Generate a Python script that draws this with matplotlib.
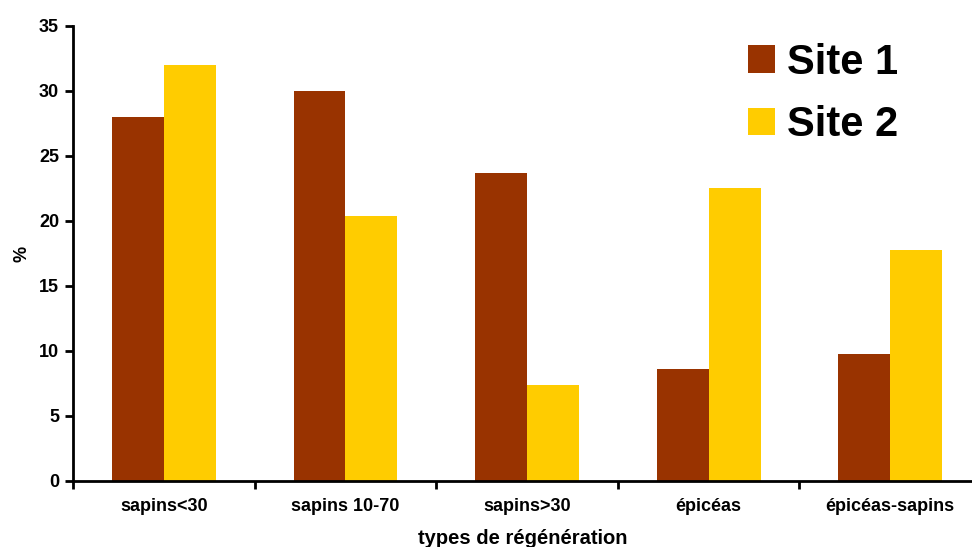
import numpy as np
import matplotlib
matplotlib.use("Agg")
import matplotlib.pyplot as plt

# data
categories = ["sapins<30", "sapins 10-70", "sapins>30", "épicéas", "épicéas-sapins"]
site1 = [28.0, 30.0, 23.7, 8.6, 9.8]
site2 = [32.0, 20.4, 7.4, 22.5, 17.8]
series_names = ["Site 1", "Site 2"]

plt.rcParams['font.family'] = ['Liberation Sans', 'DejaVu Sans']
plt.rcParams['font.weight'] = 'bold'

fig = plt.figure(figsize=(9.72, 5.47), dpi=100)
ax = fig.add_axes([0.0751, 0.1207, 0.9249, 0.8318])

x = np.arange(len(categories)) + 0.5
w = 1 / 3.5
ax.bar(x - w / 2, site1, width=w, color='#993300', label=series_names[0])
ax.bar(x + w / 2, site2, width=w, color='#FFCC00', label=series_names[1])

ax.set_xlim(0, 4.95)
ax.set_ylim(0, 35)
ax.set_yticks(np.arange(0, 36, 5))

# group ticks between categories, labels centered
ax.set_xticks(np.arange(0, len(categories)))
ax.set_xticklabels([])
ax.set_xticks(x, minor=True)
ax.set_xticklabels(categories, minor=True, fontsize=13, fontweight='bold')
ax.tick_params(axis='x', which='minor', length=0, pad=12)
ax.tick_params(axis='x', which='major', direction='out', length=6, width=2)
ax.tick_params(axis='y', direction='out', length=6, width=2, labelsize=13, pad=4)
for lab in ax.get_yticklabels():
    lab.set_fontweight('bold')

for s in ['top', 'right']:
    ax.spines[s].set_visible(False)
for s in ['left', 'bottom']:
    ax.spines[s].set_linewidth(2)

ax.set_ylabel('%', fontsize=13, fontweight='bold', labelpad=6)
ax.set_xlabel('types de régénération', fontsize=14.5, fontweight='bold', labelpad=10)

leg = ax.legend(loc='upper right', bbox_to_anchor=(0.96, 1.045), frameon=False,
                prop={'size': 30, 'weight': 'bold'}, handlelength=0.65,
                handleheight=0.65, handletextpad=0.3, labelspacing=0.53)

fig.savefig('out.png', dpi=100)
